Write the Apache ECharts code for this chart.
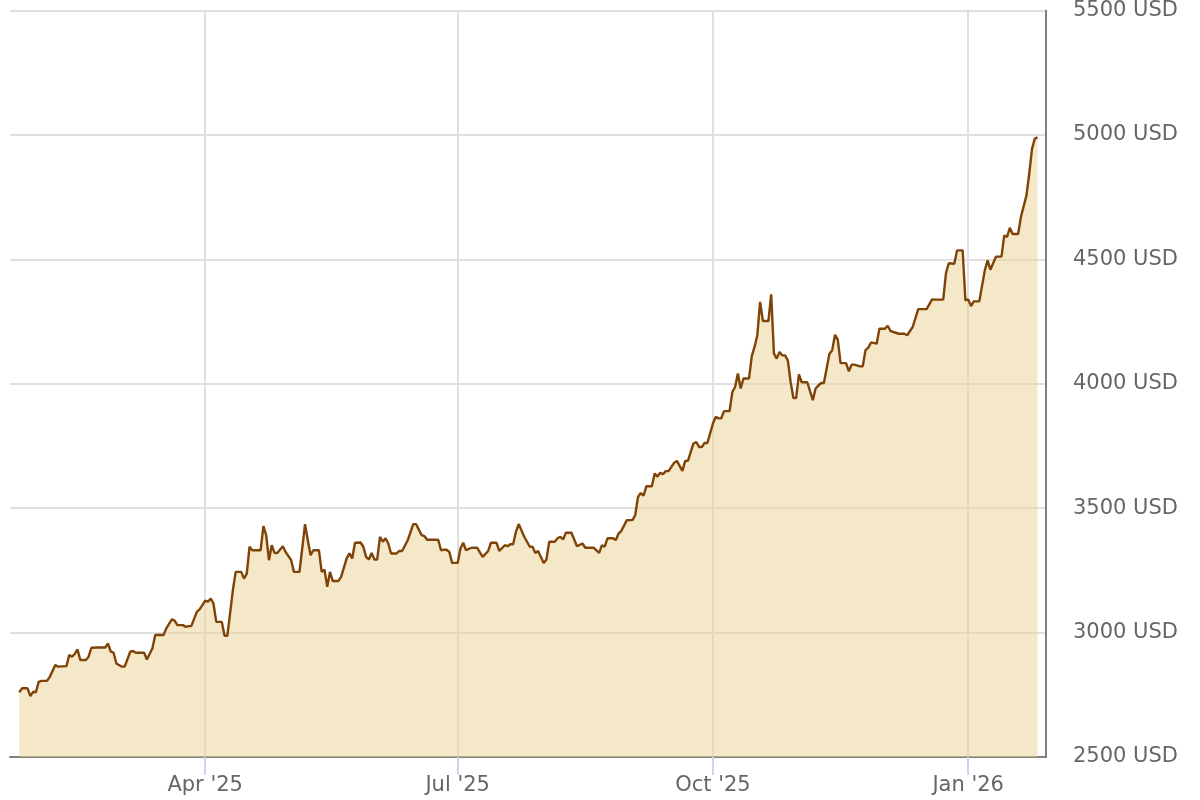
<!DOCTYPE html>
<html>
<head>
<meta charset="utf-8">
<script src="https://cdn.jsdelivr.net/npm/echarts@6/dist/echarts.min.js"></script>
<style>
html,body{margin:0;padding:0;background:#fff;}
#chart{width:1200px;height:800px;}
</style>
</head>
<body>
<div id="chart"></div>
<script>
const dates = [
'2025-01-24','2025-01-25','2025-01-27','2025-01-28','2025-01-29','2025-01-30','2025-01-31',
'2025-02-01','2025-02-03','2025-02-04','2025-02-06','2025-02-07','2025-02-10','2025-02-11','2025-02-12','2025-02-13','2025-02-14','2025-02-15','2025-02-17','2025-02-18','2025-02-19','2025-02-21','2025-02-24','2025-02-25','2025-02-26','2025-02-27','2025-02-28',
'2025-03-02','2025-03-03','2025-03-05','2025-03-06','2025-03-07','2025-03-10','2025-03-11','2025-03-13','2025-03-14','2025-03-17','2025-03-18','2025-03-20','2025-03-21','2025-03-22','2025-03-24','2025-03-25','2025-03-26','2025-03-27','2025-03-29','2025-03-30','2025-03-31',
'2025-04-01','2025-04-02','2025-04-03','2025-04-04','2025-04-05','2025-04-07','2025-04-08','2025-04-09','2025-04-11','2025-04-12','2025-04-14','2025-04-15','2025-04-16','2025-04-17','2025-04-18','2025-04-21','2025-04-22','2025-04-23','2025-04-24','2025-04-25','2025-04-26','2025-04-27','2025-04-29','2025-04-30',
'2025-05-02','2025-05-03','2025-05-05','2025-05-07','2025-05-08','2025-05-09','2025-05-10','2025-05-12','2025-05-13','2025-05-14','2025-05-15','2025-05-16','2025-05-17','2025-05-19','2025-05-20','2025-05-22','2025-05-23','2025-05-24','2025-05-25','2025-05-27','2025-05-28','2025-05-29','2025-05-30','2025-05-31',
'2025-06-01','2025-06-02','2025-06-03','2025-06-04','2025-06-05','2025-06-06','2025-06-07','2025-06-09','2025-06-10','2025-06-11','2025-06-13','2025-06-15','2025-06-16','2025-06-18','2025-06-19','2025-06-20','2025-06-24','2025-06-25','2025-06-26','2025-06-27','2025-06-28','2025-06-29',
'2025-07-01','2025-07-02','2025-07-03','2025-07-04','2025-07-06','2025-07-08','2025-07-10','2025-07-12','2025-07-13','2025-07-15','2025-07-16','2025-07-18','2025-07-19','2025-07-20','2025-07-21','2025-07-22','2025-07-23','2025-07-25','2025-07-27','2025-07-28','2025-07-29','2025-07-30',
'2025-08-01','2025-08-02','2025-08-03','2025-08-05','2025-08-06','2025-08-07','2025-08-08','2025-08-09','2025-08-11','2025-08-13','2025-08-15','2025-08-16','2025-08-19','2025-08-21','2025-08-22','2025-08-23','2025-08-24','2025-08-26','2025-08-27','2025-08-28','2025-08-29','2025-08-31',
'2025-09-02','2025-09-03','2025-09-04','2025-09-05','2025-09-06','2025-09-07','2025-09-09','2025-09-10','2025-09-11','2025-09-12','2025-09-13','2025-09-14','2025-09-15','2025-09-17','2025-09-18','2025-09-20','2025-09-21','2025-09-22','2025-09-24','2025-09-25','2025-09-26','2025-09-27','2025-09-28','2025-09-29',
'2025-10-01','2025-10-02','2025-10-03','2025-10-04','2025-10-05','2025-10-07','2025-10-08','2025-10-09','2025-10-10','2025-10-11','2025-10-12','2025-10-14','2025-10-15','2025-10-16','2025-10-17','2025-10-18','2025-10-19','2025-10-21','2025-10-22','2025-10-23','2025-10-24','2025-10-25','2025-10-26','2025-10-27','2025-10-28','2025-10-29','2025-10-30','2025-10-31',
'2025-11-01','2025-11-02','2025-11-04','2025-11-06','2025-11-07','2025-11-08','2025-11-09','2025-11-10','2025-11-12','2025-11-13','2025-11-14','2025-11-15','2025-11-16','2025-11-18','2025-11-19','2025-11-20','2025-11-21','2025-11-23','2025-11-24','2025-11-25','2025-11-26','2025-11-27','2025-11-29','2025-11-30',
'2025-12-02','2025-12-03','2025-12-04','2025-12-05','2025-12-07','2025-12-09','2025-12-10','2025-12-12','2025-12-14','2025-12-17','2025-12-19','2025-12-20','2025-12-23','2025-12-24','2025-12-25','2025-12-27','2025-12-28','2025-12-30','2025-12-31',
'2026-01-01','2026-01-02','2026-01-03','2026-01-05','2026-01-07','2026-01-08','2026-01-09','2026-01-11','2026-01-13','2026-01-14','2026-01-15','2026-01-16','2026-01-17','2026-01-19','2026-01-20','2026-01-22','2026-01-23','2026-01-24','2026-01-25','2026-01-26'
];
const prices = [
2760,2776,2776,2745,2762,2760,2802,
2806,2806,2822,2870,2863,2865,2910,2903,2914,2932,2890,2890,2903,2939,2940,2940,2956,2923,2919,2876,
2863,2863,2923,2926,2919,2919,2892,2937,2990,2990,3017,3053,3048,3030,3030,3023,3026,3026,3083,3093,3110,
3128,3124,3137,3117,3043,3043,2987,2987,3171,3244,3244,3217,3237,3345,3331,3331,3428,3392,3291,3351,3320,3320,3347,3324,
3291,3244,3244,3436,3371,3311,3331,3331,3244,3253,3184,3244,3207,3207,3224,3298,3318,3298,3361,3362,3345,3304,3294,3320,
3294,3294,3385,3365,3379,3358,3318,3318,3328,3328,3371,3436,3436,3392,3388,3373,3373,3331,3333,3333,3324,3280,
3280,3338,3361,3331,3341,3341,3304,3328,3361,3361,3328,3351,3347,3355,3355,3405,3436,3385,3345,3345,3320,3328,
3280,3294,3365,3365,3379,3385,3374,3401,3401,3347,3358,3341,3341,3320,3351,3345,3379,3379,3372,3398,3409,3452,
3452,3472,3545,3561,3550,3588,3588,3639,3627,3642,3637,3649,3649,3682,3690,3650,3690,3690,3760,3766,3746,3746,3762,3762,
3840,3867,3861,3861,3890,3890,3967,3987,4041,3981,4021,4021,4110,4148,4195,4329,4252,4252,4359,4121,4101,4128,4114,4114,4094,4007,3943,3943,
4038,4006,4006,3934,3981,3993,4003,4003,4121,4135,4197,4177,4083,4083,4050,4077,4077,4070,4070,4135,4145,4166,4161,4221,
4221,4233,4212,4208,4201,4201,4195,4228,4300,4300,4339,4338,4338,4445,4484,4482,4536,4536,4335,
4339,4312,4331,4331,4456,4496,4458,4511,4511,4596,4590,4627,4602,4602,4670,4757,4844,4944,4985,4990
];
const quarterTicks = ['2025-04-01','2025-07-01','2025-10-01','2026-01-01'];
const monthNames = ['Jan','Feb','Mar','Apr','May','Jun','Jul','Aug','Sep','Oct','Nov','Dec'];
const yMin = 2500, yMax = 5500, yStep = 500;
const xMinDate = '2025-01-20 16:00', xMaxDate = '2026-01-29 01:00';

function toTs(s){ const p = s.split(/[- :]/).map(Number); return new Date(p[0], p[1]-1, p[2], p[3]||0, p[4]||0).getTime(); }
const tickTs = quarterTicks.map(toTs);
const seriesData = dates.map((d,i)=>[toTs(d), prices[i]]);

const chart = echarts.init(document.getElementById('chart'), null, {renderer:'canvas'});
const font = 'DejaVu Sans';
chart.setOption({
  animation:false,
  backgroundColor:'#ffffff',
  grid:{left:10, right:154, top:10, bottom:43, containLabel:false},
  xAxis:{
    type:'value',
    min: toTs(xMinDate), max: toTs(xMaxDate),
    axisLine:{show:true, lineStyle:{color:'#808080', width:2}},
    axisTick:{show:true, customValues: tickTs, length:18, lineStyle:{color:'#ccd6eb', width:2}},
    axisLabel:{
      customValues: tickTs, fontSize:21, color:'#666666', fontFamily:font, margin:18,
      formatter:function(v){ const d = new Date(v); return monthNames[d.getMonth()] + " '" + String(d.getFullYear()).slice(2); }
    },
    splitLine:{show:true, lineStyle:{color:'#e0e0e0', width:2}}
  },
  yAxis:{
    type:'value', position:'right', min:yMin, max:yMax, interval:yStep,
    axisLine:{show:true, lineStyle:{color:'#808080', width:2}},
    axisTick:{show:false},
    axisLabel:{fontSize:21, color:'#666666', fontFamily:font, margin:27, formatter:function(v){ return String(v) + ' USD'; }},
    splitLine:{show:true, lineStyle:{color:'#e0e0e0', width:2}}
  },
  series:[{
    type:'line', data:seriesData, showSymbol:false, smooth:false,
    lineStyle:{color:'#7f4307', width:2.4},
    areaStyle:{color:'rgba(236,212,150,0.75)', origin:'start'},
    z:2
  }]
});
</script>
</body>
</html>
